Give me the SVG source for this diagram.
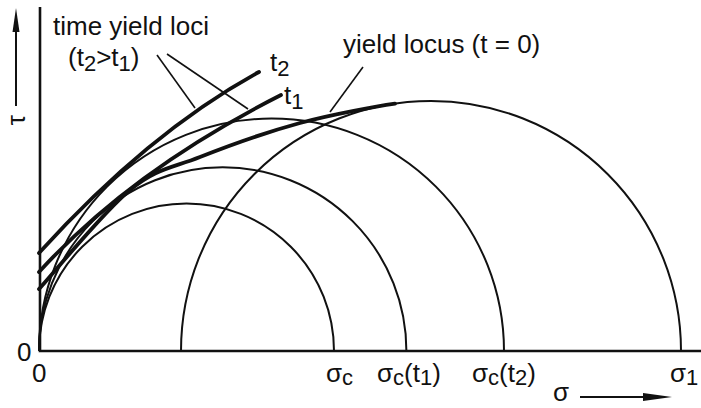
<svg xmlns="http://www.w3.org/2000/svg" width="701" height="408" viewBox="0 0 701 408">
<style>
text{font-family:"Liberation Sans",Arial,sans-serif;font-size:26px;fill:#111}
.sub{font-size:22px}
.circ{fill:none;stroke:#111;stroke-width:2}
.locus{fill:none;stroke:#111;stroke-width:3.8;stroke-linecap:round}
.lead{fill:none;stroke:#111;stroke-width:1.6}
.axis{fill:none;stroke:#111;stroke-width:2.6}
</style>
<rect width="701" height="408" fill="#fff"/>
<g id="axes">
<path class="axis" d="M40,7 V351 H701"/>
<line x1="16" y1="106" x2="16" y2="28" stroke="#111" stroke-width="2"/>
<polygon points="16,8 12.5,32 19.5,32" fill="#111"/>
<line x1="580" y1="397" x2="648" y2="397" stroke="#111" stroke-width="2"/>
<polygon points="672,397 643,393 643,401" fill="#111"/>
<text transform="translate(25,120) rotate(-90)" text-anchor="middle" font-size="28">τ</text>
<text x="17" y="361">0</text>
<text x="32" y="382">0</text>
<text x="553" y="401">σ</text>
</g>
<g id="circles">
<path class="circ" d="M39,351 A147.5,147.5 0 0 1 334,351"/>
<path class="circ" d="M39,351 A183.7,183.7 0 0 1 406.4,351"/>
<path class="circ" d="M39,351 A232.5,232.5 0 0 1 504,351"/>
<path class="circ" d="M181,351 A250,250 0 0 1 681,351"/>
</g>
<g id="loci">
<path class="locus" d="M39,253 Q149,132 259,72"/>
<path class="locus" d="M39,272 Q131,171 281,95"/>
<path class="locus" d="M39,289 C54.2,272.5 103.2,212 130,190 C156.8,168 171.7,168.2 200,157 C228.3,145.8 267.5,131.9 300,123 C332.5,114.1 379.2,105.9 395,103.6"/>
</g>
<g id="connectors">
<line class="lead" x1="157" y1="55" x2="195" y2="108"/>
<line class="lead" x1="167" y1="54" x2="248" y2="109"/>
<line class="lead" x1="363" y1="67" x2="330" y2="112"/>
</g>
<g id="labels">
<text x="53" y="35">time yield loci</text>
<text x="68" y="66">(t<tspan class="sub" dy="5">2</tspan><tspan dy="-5">&gt;t</tspan><tspan class="sub" dy="5">1</tspan><tspan dy="-5">)</tspan></text>
<text x="270" y="71">t<tspan class="sub" dy="5">2</tspan></text>
<text x="284" y="104">t<tspan class="sub" dy="5">1</tspan></text>
<text x="343" y="53">yield locus (t = 0)</text>
<text x="326" y="382">σ<tspan class="sub" dy="3">c</tspan></text>
<text x="377" y="382">σ<tspan class="sub" dy="3">c</tspan><tspan dy="-3">(t</tspan><tspan class="sub" dy="3">1</tspan><tspan dy="-3">)</tspan></text>
<text x="472" y="382">σ<tspan class="sub" dy="3">c</tspan><tspan dy="-3">(t</tspan><tspan class="sub" dy="3">2</tspan><tspan dy="-3">)</tspan></text>
<text x="670" y="382">σ<tspan class="sub" dy="3">1</tspan></text>
</g>
</svg>
